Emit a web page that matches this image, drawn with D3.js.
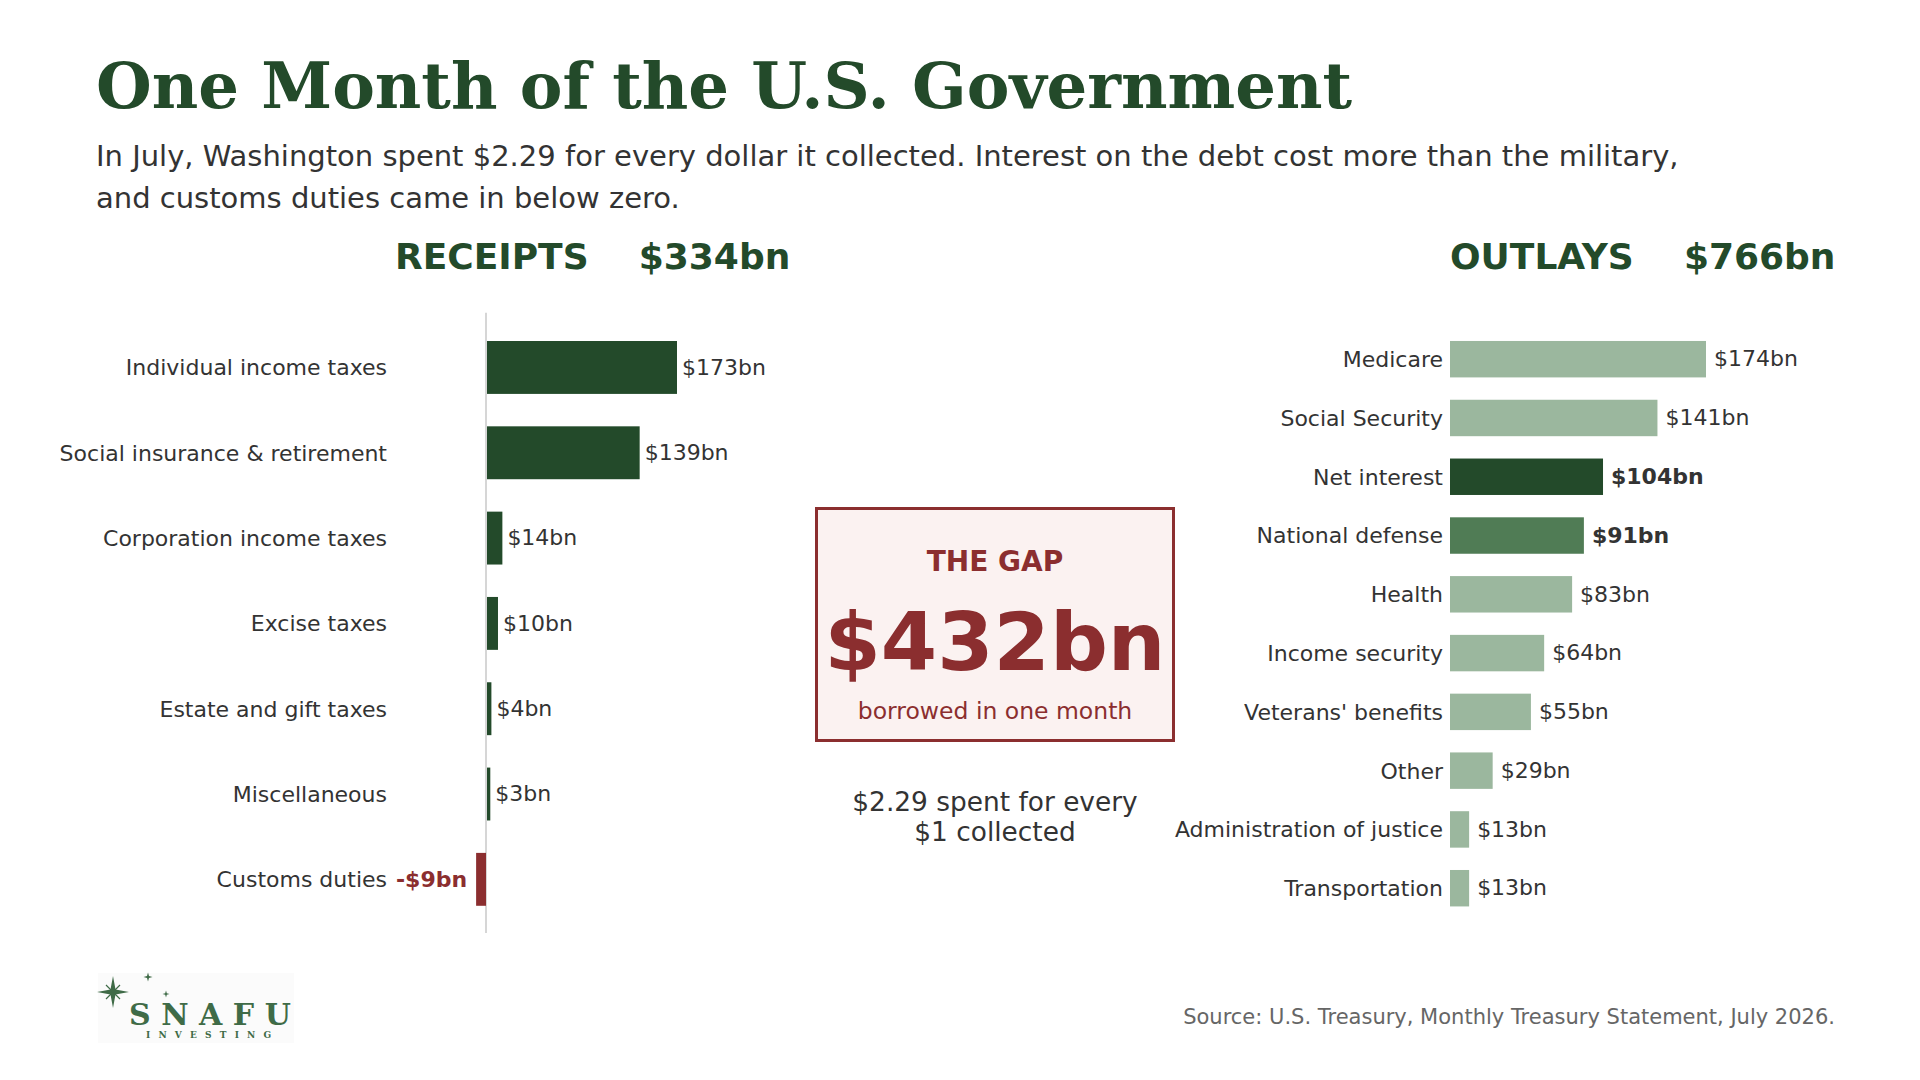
<!DOCTYPE html>
<html>
<head>
<meta charset="UTF-8">
<title>One Month of the U.S. Government</title>
<style>
    body { margin: 0; background: #ffffff; }
    svg { display: block; font-family: 'DejaVu Sans', sans-serif; }
    .title { font-family: 'DejaVu Serif', serif; font-weight: bold; font-size: 64px; fill: #234a2a; }
    .subtitle { font-size: 29px; fill: #333333; }
    .head { font-size: 36px; font-weight: bold; fill: #234a2a; white-space: pre; }
    .cat { font-size: 22px; fill: #333333; }
    .val { font-size: 22px; fill: #333333; }
    .source { font-size: 21px; fill: #666666; }
</style>
</head>
<body>
<script src="https://d3js.org/d3.v7.min.js"></script>
<script>
    // receipts, July
    const receiptCats = ['Individual income taxes', 'Social insurance & retirement', 'Corporation income taxes',
                         'Excise taxes', 'Estate and gift taxes', 'Miscellaneous', 'Customs duties'];
    const receiptVals = [173, 139, 14, 10, 4, 3, -9];

    // outlays, July
    const outlayCats = ['Medicare', 'Social Security', 'Net interest', 'National defense', 'Health',
                        'Income security', "Veterans' benefits", 'Other', 'Administration of justice', 'Transportation'];
    const outlayVals = [174, 141, 104, 91, 83, 64, 55, 29, 13, 13];
    const outlayHighlight = ['Net interest', 'National defense'];

    const totals = { receipts: 334, outlays: 766, gap: 432, ratio: 2.29 };

    const dark = '#234a2a', mid = '#507c55', light = '#9bb79e', red = '#8b2e2f';

    const svg = d3.select('body').append('svg')
        .attr('width', 1920)
        .attr('height', 1080);

    // title + subtitle
    svg.append('text').attr('class', 'title').attr('x', 96).attr('y', 108)
        .text('One Month of the U.S. Government');
    svg.append('text').attr('class', 'subtitle').attr('x', 96).attr('y', 166)
        .text('In July, Washington spent $' + totals.ratio + ' for every dollar it collected. Interest on the debt cost more than the military,');
    svg.append('text').attr('class', 'subtitle').attr('x', 96).attr('y', 208)
        .text('and customs duties came in below zero.');

    // ---------- receipts ----------
    const yR = d3.scaleBand().domain(receiptCats).range([324.8, 922]).paddingInner(0.38).paddingOuter(0.19);
    const xR = d3.scaleLinear().domain([0, d3.max(receiptVals)]).range([486, 676]);
    const receipts = receiptCats.map((c, i) => ({ cat: c, value: receiptVals[i] }));

    svg.append('text').attr('class', 'head').attr('x', 395).attr('y', 269)
        .text('RECEIPTS    $' + totals.receipts + 'bn');

    // zero line
    svg.append('line')
        .attr('x1', xR(0)).attr('x2', xR(0))
        .attr('y1', yR.range()[0] - 12).attr('y2', yR.range()[1] + 11)
        .attr('stroke', '#d6d6d6').attr('stroke-width', 2);

    svg.selectAll('.rbar').data(receipts).enter().append('rect')
        .attr('class', 'rbar')
        .attr('x', d => xR(Math.min(0, d.value)) + (d.value < 0 ? 0 : 1))
        .attr('y', d => yR(d.cat))
        .attr('width', d => Math.abs(xR(d.value) - xR(0)))
        .attr('height', yR.bandwidth())
        .attr('fill', d => d.value < 0 ? red : dark);

    svg.selectAll('.rcat').data(receipts).enter().append('text')
        .attr('class', 'cat')
        .attr('x', 387)
        .attr('y', d => yR(d.cat) + yR.bandwidth() / 2)
        .attr('dy', '0.36em')
        .attr('text-anchor', 'end')
        .text(d => d.cat);

    svg.selectAll('.rval').data(receipts).enter().append('text')
        .attr('class', 'val')
        .attr('x', d => d.value < 0 ? xR(d.value) - 9 : xR(d.value) + 6)
        .attr('y', d => yR(d.cat) + yR.bandwidth() / 2)
        .attr('dy', '0.33em')
        .attr('text-anchor', d => d.value < 0 ? 'end' : 'start')
        .style('font-weight', d => d.value < 0 ? 'bold' : 'normal')
        .style('fill', d => d.value < 0 ? red : '#333333')
        .text(d => (d.value < 0 ? '-$' : '$') + Math.abs(d.value) + 'bn');

    // ---------- outlays ----------
    const yO = d3.scaleBand().domain(outlayCats).range([329.8, 917.6]).paddingInner(0.38).paddingOuter(0.19);
    const xO = d3.scaleLinear().domain([0, d3.max(outlayVals)]).range([1450, 1706]);
    const outlays = outlayCats.map((c, i) => ({ cat: c, value: outlayVals[i] }));

    svg.append('text').attr('class', 'head').attr('x', 1450).attr('y', 269)
        .text('OUTLAYS    $' + totals.outlays + 'bn');

    svg.selectAll('.obar').data(outlays).enter().append('rect')
        .attr('class', 'obar')
        .attr('x', xO(0))
        .attr('y', d => yO(d.cat))
        .attr('width', d => xO(d.value) - xO(0))
        .attr('height', yO.bandwidth())
        .attr('fill', d => d.cat === 'Net interest' ? dark : d.cat === 'National defense' ? mid : light);

    svg.selectAll('.ocat').data(outlays).enter().append('text')
        .attr('class', 'cat')
        .attr('x', xO(0) - 7)
        .attr('y', d => yO(d.cat) + yO.bandwidth() / 2)
        .attr('dy', '0.36em')
        .attr('text-anchor', 'end')
        .text(d => d.cat);

    svg.selectAll('.oval').data(outlays).enter().append('text')
        .attr('class', 'val')
        .attr('x', d => xO(d.value) + 8)
        .attr('y', d => yO(d.cat) + yO.bandwidth() / 2)
        .attr('dy', '0.33em')
        .style('font-weight', d => outlayHighlight.includes(d.cat) ? 'bold' : 'normal')
        .text(d => '$' + d.value + 'bn');

    // ---------- the gap box ----------
    const gap = svg.append('g');
    gap.append('rect')
        .attr('x', 816.5).attr('y', 508.5).attr('width', 357).attr('height', 232)
        .attr('fill', '#fbf2f1').attr('stroke', red).attr('stroke-width', 3);
    gap.append('text').attr('x', 995).attr('y', 571).attr('text-anchor', 'middle')
        .style('font-size', '28px').style('font-weight', 'bold').style('fill', red)
        .text('THE GAP');
    gap.append('text').attr('x', 995).attr('y', 670).attr('text-anchor', 'middle')
        .style('font-size', '81px').style('font-weight', 'bold').style('fill', red)
        .text('$' + totals.gap + 'bn');
    gap.append('text').attr('x', 995).attr('y', 719).attr('text-anchor', 'middle')
        .style('font-size', '23.5px').style('fill', red)
        .text('borrowed in one month');

    svg.append('text').attr('x', 995).attr('y', 811).attr('text-anchor', 'middle')
        .style('font-size', '26.4px').style('fill', '#333333')
        .text('$' + totals.ratio + ' spent for every');
    svg.append('text').attr('x', 995).attr('y', 841).attr('text-anchor', 'middle')
        .style('font-size', '26.4px').style('fill', '#333333')
        .text('$1 collected');

    // ---------- footer ----------
    svg.append('text').attr('class', 'source').attr('x', 1835).attr('y', 1024)
        .attr('text-anchor', 'end')
        .text('Source: U.S. Treasury, Monthly Treasury Statement, July 2026.');

    // logo
    const logo = svg.append('g').attr('fill', '#3f6b47');
    logo.append('rect').attr('x', 98).attr('y', 973).attr('width', 196).attr('height', 70).attr('fill', '#fbfbfb');
    function star(cx, cy, r, w) {
        const pts = [[cx, cy - r], [cx + w, cy - w], [cx + r, cy], [cx + w, cy + w],
                     [cx, cy + r], [cx - w, cy + w], [cx - r, cy], [cx - w, cy - w]];
        logo.append('path').attr('d', d3.line()(pts) + 'Z');
    }
    star(113, 992, 16, 2.5);
    logo.append('path').attr('d', 'M106,985L120,999M120,985L106,999').attr('stroke', '#3f6b47').attr('stroke-width', 1.2);
    star(148, 977, 4.5, 1);
    star(166, 994, 3.5, 0.8);
    logo.append('text').attr('x', 129).attr('y', 1025)
        .style('font-family', "'DejaVu Serif', serif").style('font-weight', 'bold').style('font-size', '30px')
        .style('letter-spacing', '10.5px')
        .text('SNAFU');
    logo.append('text').attr('x', 146).attr('y', 1038)
        .style('font-family', "'DejaVu Serif', serif").style('font-weight', 'bold').style('font-size', '9px')
        .style('letter-spacing', '8.2px')
        .text('INVESTING');
</script>
</body>
</html>
